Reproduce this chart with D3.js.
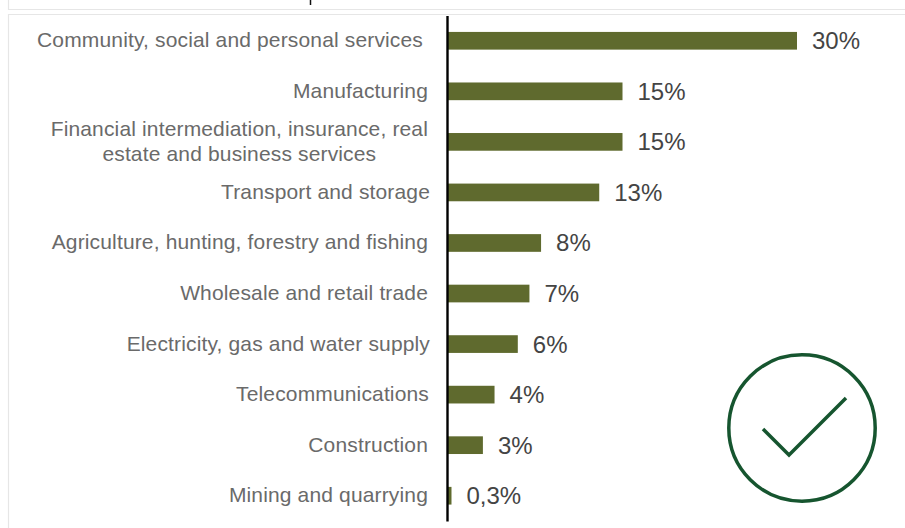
<!DOCTYPE html>
<html>
<head>
<meta charset="utf-8">
<script src="https://cdn.jsdelivr.net/npm/d3@7/dist/d3.min.js"></script>
<style>
  html, body { margin: 0; padding: 0; background: #fff; }
  svg { display: block; font-family: "Liberation Sans", Arial, sans-serif; }
</style>
</head>
<body>
<svg id="chart" width="905" height="528"></svg>
<script>
// Share of employment by sector, largest first
const categories = [
  "Community, social and personal services",
  "Manufacturing",
  "Financial intermediation, insurance, real\nestate and business services",
  "Transport and storage",
  "Agriculture, hunting, forestry and fishing",
  "Wholesale and retail trade",
  "Electricity, gas and water supply",
  "Telecommunications",
  "Construction",
  "Mining and quarrying"
];
const shares = [30, 15, 15, 13, 8, 7, 6, 4, 3, 0.3];
const shareLabels = ["30%", "15%", "15%", "13%", "8%", "7%", "6%", "4%", "3%", "0,3%"];

const svg = d3.select("#chart");

const x = d3.scaleLinear().domain([0, 30]).range([448, 797]);
const y = d3.scaleBand().domain(categories).range([15.5, 521]).paddingInner(0.65).paddingOuter(0.325);

// Panel edges and the stub of the panel above
const frame = svg.append("g").attr("fill", "none").attr("stroke", "#e6e6e6").attr("stroke-width", 1.2);
frame.append("path").attr("d", "M8.5,0V9.5H905");
frame.append("path").attr("d", "M905,14.5H8.5V528");
svg.append("line").attr("x1", 310.5).attr("x2", 310.5).attr("y1", 0).attr("y2", 5)
  .attr("stroke", "#111").attr("stroke-width", 1.5);

// Bars
svg.append("g").selectAll("rect").data(shares).join("rect")
  .attr("x", x(0))
  .attr("y", (d, i) => y(categories[i]))
  .attr("width", d => x(d) - x(0))
  .attr("height", y.bandwidth())
  .attr("fill", "#5f6a2e");

// Category axis: a heavy baseline, labels wrapped on explicit line breaks
const axis = svg.append("g").attr("transform", "translate(447,0)")
  .call(d3.axisLeft(y).tickSize(0).tickPadding(19).tickFormat(""));
axis.select(".domain").attr("stroke", "#000").attr("stroke-width", 2.4);

// Right edge of each label block, relative to the axis line
const labelEdge = d => d.startsWith("Community") ? -24
  : d.startsWith("Transport") || d.startsWith("Electricity") ? -17
  : d.startsWith("Telecom") ? -18
  : -19;

axis.selectAll(".tick text").each(function (d) {
  const text = d3.select(this).text(null)
    .attr("font-size", 21).attr("letter-spacing", 0.15)
    .attr("fill", "#6a6a6a").attr("text-anchor", "middle").attr("x", 0).attr("dy", null);
  const lines = d.split("\n");
  const spans = lines.map((line, i) => text.append("tspan")
    .attr("y", (i - (lines.length - 1) / 2) * 25 + 6.5)
    .text(line));
  const widest = d3.max(spans, s => s.node().getComputedTextLength());
  spans.forEach(s => s.attr("x", labelEdge(d) - widest / 2));
});

// Value labels
svg.append("g").selectAll("text").data(shares).join("text")
  .attr("x", d => x(d) + 15)
  .attr("y", (d, i) => y(categories[i]) + y.bandwidth() / 2 + 8.5)
  .attr("font-size", 24)
  .attr("fill", "#444")
  .text((d, i) => shareLabels[i]);

// Approval badge: a ring with a tick inside
const badge = svg.append("g").attr("fill", "none").attr("stroke", "#16552f").attr("stroke-width", 3.5);
badge.append("circle").attr("cx", 802).attr("cy", 428).attr("r", 73.2);
badge.append("path").attr("d", d3.line()([[763, 429], [789, 455], [846, 398]]));
</script>
</body>
</html>
